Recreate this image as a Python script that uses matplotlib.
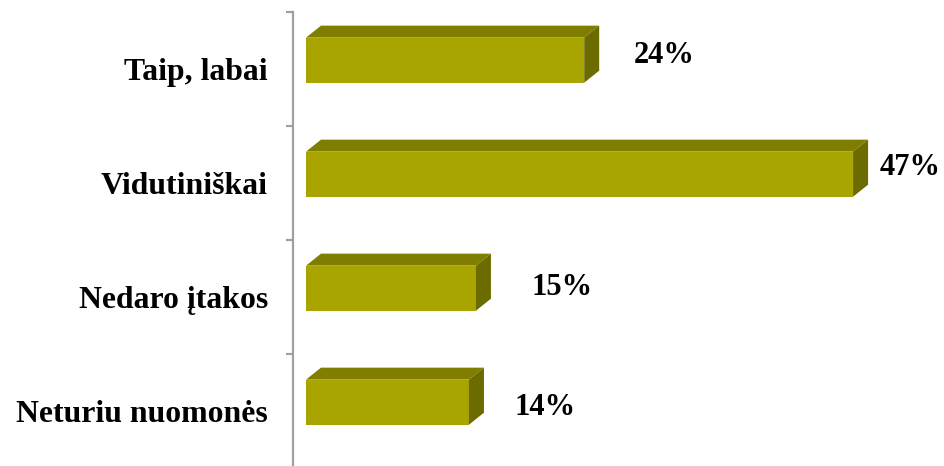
import matplotlib
matplotlib.use("Agg")
import matplotlib.pyplot as plt
from matplotlib.patches import Polygon, Rectangle

categories = ["Taip, labai", "Vidutiniškai", "Nedaro įtakos", "Neturiu nuomonės"]
values = [23.9, 47.0, 14.6, 14.0]
value_labels = ["24%", "47%", "15%", "14%"]

# styling
FRONT = "#A9A500"
TOP = "#807E00"
SIDE = "#6C6B00"
AXIS_GRAY = "#A0A0A0"
FONT = "Liberation Serif"

W, H, DPI = 945, 466, 100
fig = plt.figure(figsize=(W / DPI, H / DPI), dpi=DPI)

# axes placement in pixels
ax_left_px, ax_top_px, ax_bottom_px = 293, 12, 468
px_per_unit_x = 11.64
x0_px = 306  # pixel where value 0 sits
ax = fig.add_axes([ax_left_px / W, (H - ax_bottom_px) / H,
                   (W - ax_left_px) / W, (ax_bottom_px - ax_top_px) / H])
xmin = -(x0_px - ax_left_px) / px_per_unit_x
xmax = xmin + (W - ax_left_px) / px_per_unit_x
ax.set_xlim(xmin, xmax)
n = len(categories)
ax.set_ylim(n, 0)

# 3D depth in data units
ddx = 15 / px_per_unit_x
ddy = 12 / ((ax_bottom_px - ax_top_px) / n)
f_top, f_bot = 0.225, 0.62

for i, v in enumerate(values):
    yt, yb = i + f_top, i + f_bot
    ax.add_patch(Rectangle((0, yt), v, yb - yt, facecolor=FRONT, edgecolor="none"))
    ax.add_patch(Polygon([(0, yt), (v, yt), (v + ddx, yt - ddy), (ddx, yt - ddy)],
                         closed=True, facecolor=TOP, edgecolor="none"))
    ax.add_patch(Polygon([(v, yt), (v + ddx, yt - ddy), (v + ddx, yb - ddy), (v, yb)],
                         closed=True, facecolor=SIDE, edgecolor="none"))

# value labels (pixel offsets from bar's back end; baseline)
label_dx_px = [35, 12, 41, 31]
label_dy_px = [0, -2.3, 3.7, 9.7]
for i, (v, lab) in enumerate(zip(values, value_labels)):
    ax.annotate(lab, xy=(v + ddx, i + 0.45), xytext=(label_dx_px[i] * 0.72, -label_dy_px[i] * 0.72),
                textcoords="offset points", ha="left", va="baseline",
                fontsize=22, fontweight="bold", family=FONT, color="black")

# axes styling
for s in ["top", "right", "bottom"]:
    ax.spines[s].set_visible(False)
ax.spines["left"].set_color(AXIS_GRAY)
ax.spines["left"].set_linewidth(1.6)
ax.set_xticks([])
ax.set_yticks(range(n))
ax.set_yticklabels([])
ax.tick_params(axis="y", which="major", length=5, width=1.6, color=AXIS_GRAY, direction="out")
ax.set_yticks([i + 0.5 for i in range(n)], minor=True)
ax.set_yticklabels(categories, minor=True, fontsize=22.9, fontweight="bold", family=FONT)
ax.tick_params(axis="y", which="minor", length=0, pad=18)
ax.patch.set_alpha(0)

fig.savefig("out.png", dpi=DPI)
